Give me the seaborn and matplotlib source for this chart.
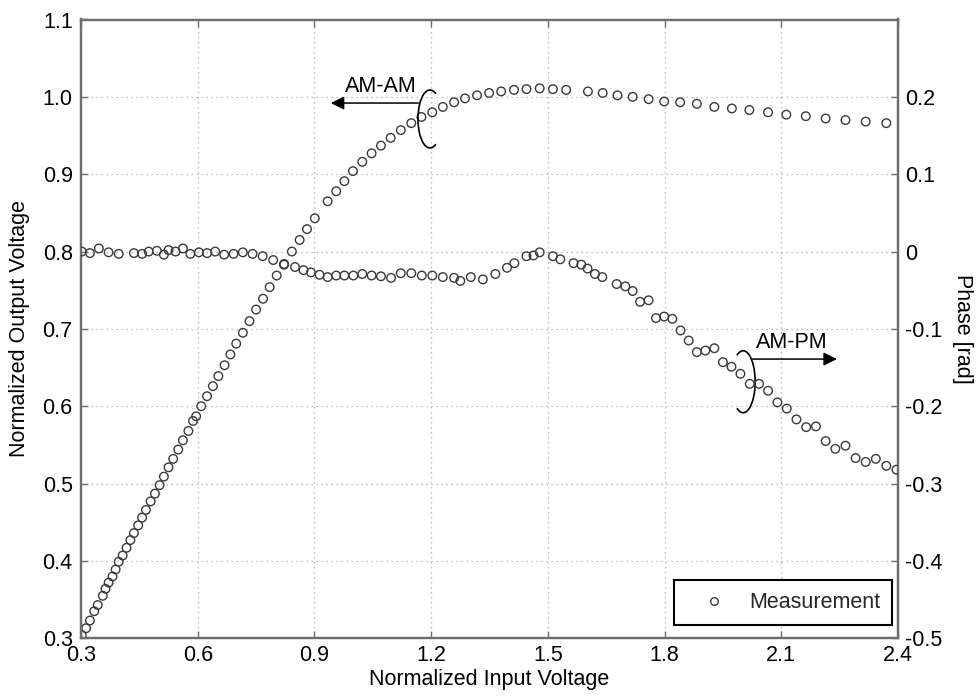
import matplotlib
matplotlib.use("Agg")
import matplotlib.pyplot as plt
from matplotlib.patches import Arc
from matplotlib.lines import Line2D
import numpy as np
import pandas as pd
import seaborn as sns

# ---------------- data ----------------
amam_x = [0.302, 0.313, 0.323, 0.334, 0.343, 0.356, 0.363, 0.371, 0.381, 0.389,
          0.397, 0.407, 0.417, 0.427, 0.436, 0.447, 0.457, 0.467, 0.479, 0.490,
          0.502, 0.513, 0.525, 0.537, 0.550, 0.562, 0.576, 0.588, 0.596, 0.609,
          0.624, 0.639, 0.653, 0.669, 0.684, 0.699, 0.716, 0.733, 0.750, 0.768,
          0.785, 0.803, 0.822, 0.842, 0.862, 0.881, 0.901, 0.934, 0.956, 0.977,
          0.999, 1.023, 1.047, 1.071, 1.096, 1.122, 1.149, 1.175, 1.203, 1.230,
          1.259, 1.287, 1.318, 1.349, 1.380, 1.413, 1.445, 1.479, 1.513, 1.547,
          1.603, 1.641, 1.679, 1.718, 1.759, 1.799, 1.840, 1.883, 1.928, 1.973,
          2.018, 2.066, 2.113, 2.163, 2.214, 2.265, 2.317, 2.370]
amam_y = [0.304, 0.313, 0.323, 0.335, 0.343, 0.355, 0.364, 0.372, 0.380, 0.389,
          0.399, 0.407, 0.417, 0.427, 0.436, 0.446, 0.456, 0.466, 0.477, 0.487,
          0.498, 0.509, 0.521, 0.532, 0.544, 0.556, 0.568, 0.581, 0.587, 0.600,
          0.613, 0.626, 0.639, 0.653, 0.667, 0.681, 0.695, 0.710, 0.725, 0.739,
          0.754, 0.769, 0.784, 0.800, 0.815, 0.829, 0.843, 0.865, 0.878, 0.891,
          0.904, 0.916, 0.927, 0.937, 0.947, 0.957, 0.966, 0.974, 0.980, 0.987,
          0.993, 0.998, 1.002, 1.005, 1.007, 1.009, 1.010, 1.011, 1.010, 1.009,
          1.007, 1.005, 1.002, 1.000, 0.997, 0.994, 0.993, 0.991, 0.987, 0.985,
          0.983, 0.980, 0.977, 0.975, 0.972, 0.970, 0.968, 0.966]

ampm_x = [0.302, 0.323, 0.346, 0.371, 0.397, 0.436, 0.457, 0.474, 0.495, 0.513,
          0.525, 0.543, 0.562, 0.581, 0.603, 0.624, 0.645, 0.668, 0.692, 0.716,
          0.741, 0.767, 0.794, 0.822, 0.850, 0.872, 0.891, 0.913, 0.934, 0.956,
          0.977, 1.000, 1.023, 1.047, 1.071, 1.097, 1.122, 1.149, 1.176, 1.203,
          1.230, 1.259, 1.275, 1.302, 1.333, 1.365, 1.395, 1.414, 1.445, 1.463,
          1.479, 1.513, 1.532, 1.566, 1.586, 1.602, 1.621, 1.640, 1.677, 1.699,
          1.718, 1.737, 1.759, 1.778, 1.799, 1.820, 1.841, 1.862, 1.883, 1.905,
          1.928, 1.950, 1.972, 1.995, 2.019, 2.043, 2.066, 2.090, 2.114, 2.139,
          2.164, 2.189, 2.214, 2.239, 2.265, 2.291, 2.317, 2.343, 2.370, 2.396]
ampm_phase = [0.000, -0.002, 0.004, -0.001, -0.003, -0.002, -0.003, 0.000, 0.001, -0.004,
              0.002, 0.000, 0.004, -0.003, -0.001, -0.002, 0.000, -0.004, -0.003, -0.001,
              -0.003, -0.006, -0.011, -0.017, -0.020, -0.024, -0.027, -0.030, -0.033, -0.031,
              -0.031, -0.031, -0.029, -0.031, -0.032, -0.034, -0.028, -0.028, -0.031, -0.031,
              -0.033, -0.034, -0.038, -0.033, -0.036, -0.029, -0.021, -0.015, -0.006, -0.005,
              -0.001, -0.006, -0.010, -0.015, -0.017, -0.022, -0.029, -0.033, -0.042, -0.045,
              -0.051, -0.065, -0.063, -0.086, -0.084, -0.087, -0.102, -0.115, -0.130, -0.128,
              -0.125, -0.143, -0.149, -0.158, -0.171, -0.171, -0.180, -0.195, -0.203, -0.217,
              -0.227, -0.226, -0.245, -0.255, -0.251, -0.267, -0.272, -0.268, -0.277, -0.282]

x_ticks = [0.3, 0.6, 0.9, 1.2, 1.5, 1.8, 2.1, 2.4]
left_ticks = [0.3, 0.4, 0.5, 0.6, 0.7, 0.8, 0.9, 1.0, 1.1]
right_ticks = [-0.5, -0.4, -0.3, -0.2, -0.1, 0.0, 0.1, 0.2]
right_labels = ["-0.5", "-0.4", "-0.3", "-0.2", "-0.1", "0", "0.1", "0.2"]

# ---------------- style ----------------
sns.set_theme(style="white")
plt.rcParams["font.family"] = ["Liberation Sans", "DejaVu Sans"]
plt.rcParams["axes.unicode_minus"] = False

FS = 15.5
SPINE = "#6e6e6e"
MK = "#3a3a3a"

fig = plt.figure(figsize=(9.79, 6.96), dpi=100)
ax = fig.add_axes([81 / 979, 1 - 638.3 / 696, (898 - 81) / 979, (638.3 - 19.5) / 696])
ax2 = ax.twinx()

df_amam = pd.DataFrame({"x": amam_x, "y": amam_y})
df_ampm = pd.DataFrame({"x": ampm_x, "phase": ampm_phase})

sns.scatterplot(data=df_amam, x="x", y="y", ax=ax, marker="o", s=38,
                facecolor="none", edgecolor=MK, linewidth=1.0, legend=False, zorder=3)
sns.scatterplot(data=df_ampm, x="x", y="phase", ax=ax2, marker="o", s=38,
                facecolor="none", edgecolor=MK, linewidth=1.0, legend=False, zorder=3)

ax.set_xlim(0.3, 2.4)
ax.set_ylim(0.3, 1.1)
ax2.set_ylim(-0.5, 0.3)

ax.set_xticks(x_ticks)
ax.set_xticklabels([f"{v:.1f}" for v in x_ticks])
ax.set_yticks(left_ticks)
ax.set_yticklabels([f"{v:.1f}" for v in left_ticks])
ax2.set_yticks(right_ticks)
ax2.set_yticklabels(right_labels)

ax.grid(True, color="#a8a8a8", linestyle=(0, (1, 3)), linewidth=0.9)
ax.set_axisbelow(True)

ax.tick_params(axis="x", direction="in", length=5, width=1, color=SPINE,
               labelsize=FS, pad=5, top=True, bottom=True, labelcolor="black")
ax.tick_params(axis="y", direction="in", length=5, width=1, color=SPINE,
               labelsize=FS, pad=6, left=True, right=False, labelcolor="black")
ax2.tick_params(axis="y", direction="in", length=5, width=1, color=SPINE,
                labelsize=FS, pad=5, right=True, left=False, labelcolor="black")

for a in (ax, ax2):
    for sp in a.spines.values():
        sp.set_visible(True)
        sp.set_color(SPINE)
        sp.set_linewidth(1.6)

ax.set_xlabel("Normalized Input Voltage", fontsize=FS, labelpad=2, color="black")
ax.set_ylabel("Normalized Output Voltage", fontsize=FS, labelpad=9, color="black")
ax2.set_ylabel("Phase [rad]", fontsize=FS, rotation=-90, va="bottom", labelpad=7, color="black")

# ---------------- annotations ----------------
ax.text(1.071, 1.014, "AM-AM", fontsize=FS, ha="center", va="center", color="black")
ax.annotate("", xy=(0.942, 0.992), xytext=(1.167, 0.992),
            arrowprops=dict(arrowstyle="-|>", color="black", lw=1.1, mutation_scale=20,
                            shrinkA=0, shrinkB=0))
ax.add_patch(Arc((1.197, 0.9714), width=0.0617, height=0.0749, theta1=65, theta2=295,
                 color="black", lw=1.2, zorder=4))

ax.text(2.128, 0.682, "AM-PM", fontsize=FS, ha="center", va="center", color="black")
ax.annotate("", xy=(2.243, 0.661), xytext=(2.024, 0.661),
            arrowprops=dict(arrowstyle="-|>", color="black", lw=1.1, mutation_scale=20,
                            shrinkA=0, shrinkB=0))
ax.add_patch(Arc((2.002, 0.6317), width=0.0617, height=0.0801, theta1=-115, theta2=115,
                 color="black", lw=1.2, zorder=4))

# ---------------- legend ----------------
handle = Line2D([], [], linestyle="none", marker="o", markersize=5.5,
                markerfacecolor="none", markeredgecolor=MK, markeredgewidth=1.0)
leg = ax2.legend([handle], ["Measurement"], loc="lower right",
                 bbox_to_anchor=(0.9927, 0.0215), borderaxespad=0, fontsize=FS,
                 frameon=True, fancybox=False, framealpha=1, edgecolor="black",
                 borderpad=0.55, handlelength=2.6, handletextpad=0.35)
leg.get_frame().set_linewidth(1.5)

fig.savefig("out.png", dpi=100, facecolor="white")
